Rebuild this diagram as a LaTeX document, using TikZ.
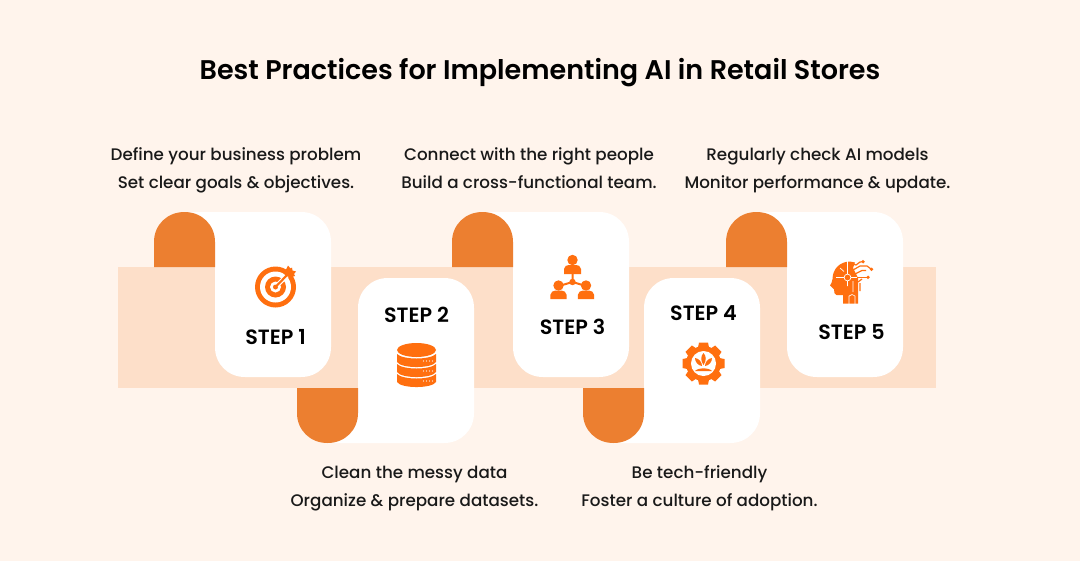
\documentclass[tikz,border=0pt]{standalone}
\usepackage{fontspec}
\setmainfont{Poppins}[UprightFont=* Medium,BoldFont=* SemiBold]
\definecolor{bgc}{HTML}{FFF4EC}
\definecolor{bandc}{HTML}{FDDFC9}
\definecolor{tabc}{HTML}{EC7F30}
\definecolor{iconc}{HTML}{FF6F0F}
\tikzset{
  titletext/.style={anchor=base,font=\bfseries\fontsize{20.25}{24}\selectfont,text=black,inner sep=0pt},
  bodytext/.style={anchor=base,font=\fontsize{12.55}{15}\selectfont,text=black!90,inner sep=0pt},
  steptext/.style={anchor=base,font=\bfseries\fontsize{15.5}{18}\selectfont,text=black,inner sep=0pt},
  ic/.style={fill=iconc,draw=none},
  icw/.style={fill=white,draw=none},
}
\begin{document}
\begin{tikzpicture}[x=0.75pt,y=-0.75pt,line cap=butt]
\useasboundingbox (0,0) rectangle (1080,561);
\fill[bgc] (0,0) rectangle (1080,561);
\fill[bandc] (118,267) rectangle (936,388);
% cards
\foreach \x in {215,513,787}{
\path[fill=white] ({\x-30},212) -- ({\x+86},212) .. controls ({\x+103},212) and ({\x+116},225) .. ({\x+116},242) -- ({\x+116},347) .. controls ({\x+116},364) and ({\x+103},377) .. ({\x+86},377) -- ({\x+30},377) .. controls ({\x+13},377) and (\x,364) .. (\x,347) -- (\x,240) -- ({\x-30},240) -- cycle;}
\foreach \x in {358,644}{
\path[fill=white] ({\x-30},443) -- ({\x+86},443) .. controls ({\x+103},443) and ({\x+116},430) .. ({\x+116},413) -- ({\x+116},308) .. controls ({\x+116},291) and ({\x+103},278) .. ({\x+86},278) -- ({\x+30},278) .. controls ({\x+13},278) and (\x,291) .. (\x,308) -- (\x,415) -- ({\x-30},415) -- cycle;}
% tabs
\foreach \x in {154,452,726}{
 \path[fill=tabc] (\x,267) -- (\x,242) .. controls (\x,225) and ({\x+13},212) .. ({\x+30.5},212) .. controls ({\x+48},212) and ({\x+61},225) .. ({\x+61},242) -- ({\x+61},267) -- cycle;}
\foreach \x in {297,583}{
 \path[fill=tabc] (\x,388) -- (\x,413) .. controls (\x,430) and ({\x+13},443) .. ({\x+30.5},443) .. controls ({\x+48},443) and ({\x+61},430) .. ({\x+61},413) -- ({\x+61},388) -- cycle;}
% texts
\node[titletext] (title) at (540,79.5) {Best Practices for Implementing AI in Retail Stores};
\node[bodytext] (t1a) at (236,160) {Define your business problem};
\node[bodytext] (t1b) at (236,188) {Set clear goals \& objectives.};
\node[bodytext] (t3a) at (529,160) {Connect with the right people};
\node[bodytext] (t3b) at (529,188) {Build a cross-functional team.};
\node[bodytext] (t5a) at (817.5,160) {Regularly check AI models};
\node[bodytext] (t5b) at (817.5,188) {Monitor performance \& update.};
\node[bodytext] (t2a) at (414.5,478) {Clean the messy data};
\node[bodytext] (t2b) at (414.5,506) {Organize \& prepare datasets.};
\node[bodytext] (t4a) at (699.5,478) {Be tech-friendly};
\node[bodytext] (t4b) at (699.5,506) {Foster a culture of adoption.};
\node[steptext] (s1) at (275.5,344.5) {STEP 1};
\node[steptext] (s2) at (416.5,322) {STEP 2};
\node[steptext] (s3) at (572.5,334.5) {STEP 3};
\node[steptext] (s4) at (703.5,320.5) {STEP 4};
\node[steptext] (s5) at (851.5,339.5) {STEP 5};
% icon 1: target
\fill[ic] (275.5,287) circle[radius=20.5];
\fill[icw] (275.5,287) circle[radius=15.5];
\fill[ic] (275.5,287) circle[radius=10.5];
\fill[icw] (275.5,287) circle[radius=5.5];
\fill[ic] (275.5,287) circle[radius=2.5];
\draw[white,line width=3.2pt] (277,285.5) -- (291,271.5);
\draw[iconc,line width=1.6pt] (275.5,287) -- (289,273);
\path[ic] (284.5,275) -- (286,269.5) -- (288,265.5) -- (290.5,268.5) -- (292,267.5) -- (292.5,270.5) -- (296,271.5) -- (294,274) -- (295,276) -- (290,277.5) -- cycle;
% icon 2: database
\fill[ic] (416.5,350) ellipse[x radius=19.5,y radius=7];
\foreach \d in {0,10,20}{
 \path[ic] (397,{354+\d}) .. controls (403,{360+\d}) and (430,{360+\d}) .. (436,{354+\d}) -- (436,{362+\d}) .. controls (432,{368.7+\d}) and (401,{368.7+\d}) .. (397,{362+\d}) -- cycle;
 \foreach \q in {423.5,426.5,429.5,432.5}{\fill[white] (\q,{361+\d}) circle[radius=0.6];}
}
% icon 3: team
\draw[iconc,line width=1.5pt] (572.5,270) -- (572.5,282) (559,286) -- (572.5,282) -- (586,286);
\fill[ic] (572.5,260) circle[radius=5.2];
\path[ic] (564,274) -- (564,269) .. controls (564,266) and (567,265) .. (569,265) -- (576,265) .. controls (578,265) and (581,266) .. (581,269) -- (581,274) -- cycle;
\fill[ic] (572.5,282) circle[radius=3.2];
\foreach \c in {558.5,586}{
 \fill[ic] (\c,285.5) circle[radius=5.2];
 \path[ic] ({\c-8.2},299) -- ({\c-8.2},295) .. controls ({\c-8.2},292) and ({\c-5},290.5) .. ({\c-3},290.5) -- ({\c+3},290.5) .. controls ({\c+5},290.5) and ({\c+8.2},292) .. ({\c+8.2},295) -- ({\c+8.2},299) -- cycle;
}
% icon 4: gear
\foreach \a in {0,45,...,315}{
 \fill[ic,rotate around={\a:(703.5,363.5)}] (699,342.5) -- (708,342.5) -- (709.5,350) -- (697.5,350) -- cycle;}
\fill[ic] (703.5,363.5) circle[radius=17.5];
\fill[icw] (703.5,363.5) circle[radius=12.5];
\path[ic] (703.5,353) .. controls (700.5,356) and (700.5,361) .. (703.5,365) .. controls (706.5,361) and (706.5,356) .. (703.5,353) -- cycle;
\path[ic] (695,358) .. controls (695,362) and (698,365.5) .. (702,366) .. controls (702,362) and (699,358.5) .. (695,358) -- cycle;
\path[ic] (712,358) .. controls (712,362) and (709,365.5) .. (705,366) .. controls (705,362) and (708,358.5) .. (712,358) -- cycle;
\path[ic] (695,371) .. controls (698,367.5) and (709,367.5) .. (712,371) -- cycle;
% icon 5: head
\path[ic] (843,303.5) -- (843,295) -- (836.5,295) .. controls (834.5,295) and (834,292) .. (834,289.5) -- (830,285.5) .. controls (831,283.5) and (832.5,282) .. (832.5,279) .. controls (832.5,269) and (840,261.5) .. (850,261.5) -- (855,262.5) -- (853,268) -- (858,278) -- (858,303.5) -- cycle;
\begin{scope}[white,line width=0.5pt]
 \draw (847.5,277.5) circle[radius=3.4];
 \draw (847.5,261) -- (847.5,274) (840,268) -- (844,271.5) (836,277.5) -- (844,277.5);
 \draw (851,277.5) -- (858.5,277.5) (847.5,281) -- (847.5,286) (853,281) -- (853,292) (849,304) -- (849,296) .. controls (851,294) and (853,294) .. (855,296) -- (855,304);
\end{scope}
\begin{scope}[iconc,line width=0.9pt]
 \draw (853,264) -- (856,265) -- (860,262) -- (863,261.7);
 \draw (853,270) -- (860,266) -- (867,266) -- (871.5,269.3);
 \draw (855,274) -- (862,270.5) -- (866,270.5);
 \draw (857,277.3) -- (868,277.3);
 \draw (858,282) -- (862,279) (860,283) -- (860,291);
\end{scope}
\foreach \p/\q in {863/261.7,871.5/269.3,868/277.3}{\fill[ic] (\p,\q) circle[radius=1.8];}
\end{tikzpicture}
\end{document}
